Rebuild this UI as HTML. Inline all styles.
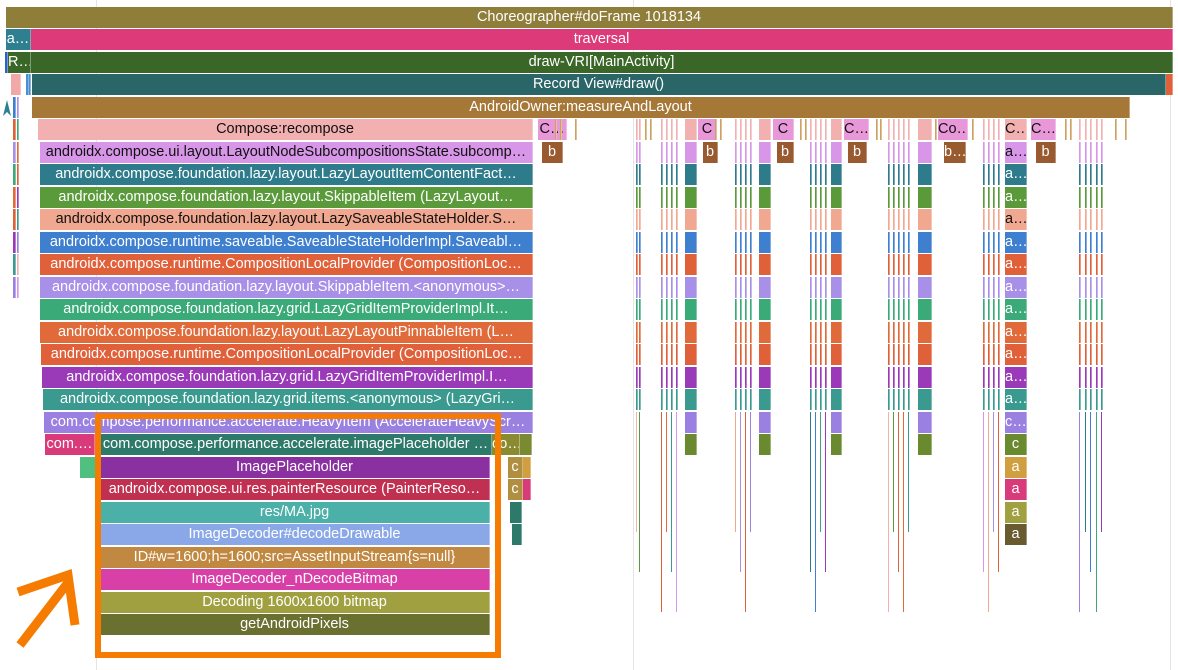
<!DOCTYPE html>
<html><head><meta charset="utf-8"><style>
html,body{margin:0;padding:0;background:#fff;width:1178px;height:670px;overflow:hidden}
#c{position:relative;width:1178px;height:670px}
.b{position:absolute;height:21px;box-sizing:border-box;font:14.5px "Liberation Sans Narrow","Liberation Sans",sans-serif;color:#fff;text-align:center;line-height:21px;white-space:nowrap;overflow:hidden;border-right:1px solid rgba(255,255,255,.35)}
.d{color:#111}
.g{position:absolute;top:0;width:1px;height:670px;background:#e4e4e4}
</style></head><body><div id="c">
<div class="g" style="left:96px"></div><div class="g" style="left:633px"></div><div class="g" style="left:1170px"></div>
</div>
<script>
var C=document.getElementById('c');
function Y(r){return Math.round(6.5+22.5*r);}
function bar(r,x,w,col,t,dark,h){var d=document.createElement('div');d.className='b'+(dark?' d':'');d.style.left=x+'px';d.style.top=Y(r)+'px';d.style.width=w+'px';d.style.background=col;if(h)d.style.height=h+'px';d.textContent=t||'';C.appendChild(d);return d;}
bar(0,6,1167,'#8f7d3a','Choreographer#doFrame 1018134');
bar(1,6,25,'#2e8090','a…');bar(1,31,1142,'#dc3a78','traversal');
bar(2,5,3,'#3060c0');bar(2,8,23,'#3a6628','R…');bar(2,31,1142,'#3a6628','draw-VRI[MainActivity]');
bar(3,11,10,'#f0a8a8');bar(3,26,3,'#4a90d0');bar(3,29,2,'#4a90d0');bar(3,32,1134,'#2a6568','Record View#draw()');bar(3,1166,7,'#e0603a');
bar(4,32,1098,'#a67838','AndroidOwner:measureAndLayout');
var rc=['#f2b0b0','#d896e8','#2e7b8c','#5a9a3a','#f0a890','#3f7fd0','#e0603a','#a890e8','#3aaa78','#e06a3a','#e0603a','#9a3ab8','#3a9a90','#9a80e0'];
var dark={5:1,6:1,9:1};
var tx=['Compose:recompose','androidx.compose.ui.layout.LayoutNodeSubcompositionsState.subcomp…','androidx.compose.foundation.lazy.layout.LazyLayoutItemContentFact…','androidx.compose.foundation.lazy.layout.SkippableItem (LazyLayout…','androidx.compose.foundation.lazy.layout.LazySaveableStateHolder.S…','androidx.compose.runtime.saveable.SaveableStateHolderImpl.Saveabl…','androidx.compose.runtime.CompositionLocalProvider (CompositionLoc…','androidx.compose.foundation.lazy.layout.SkippableItem.<anonymous>…','androidx.compose.foundation.lazy.grid.LazyGridItemProviderImpl.It…','androidx.compose.foundation.lazy.layout.LazyLayoutPinnableItem (L…','androidx.compose.runtime.CompositionLocalProvider (CompositionLoc…','androidx.compose.foundation.lazy.grid.LazyGridItemProviderImpl.I…','androidx.compose.foundation.lazy.grid.items.<anonymous> (LazyGri…','com.compose.performance.accelerate.HeavyItem (AccelerateHeavyScr…'];
for(var i=0;i<14;i++){var x=38+Math.min(i,1)*2+(i>9?(i-9):0);bar(5+i,x,533-x,rc[i],tx[i],dark[5+i]);}
for(var r=4;r<13;r++){bar(r,13,3,rc[(r+1)%14]);bar(r,17,2,rc[(r+3)%14]);}
bar(19,45,50,'#d83a7a','com.…');bar(19,100,392,'#2e7a6a','com.compose.performance.accelerate.imagePlaceholder …');
bar(19,492,28,'#8a8a30','co…');bar(19,520,12,'#7a8a30');
bar(20,80,20,'#50c080');bar(20,508,15,'#b09040','c');bar(20,523,8,'#d0a040');
bar(21,508,15,'#b09040','c');bar(21,523,8,'#d83a7a');
bar(22,510,12,'#2e7a6a');bar(23,512,10,'#2e7a6a');
var inner=[['#8a30a0','ImagePlaceholder'],['#c03050','androidx.compose.ui.res.painterResource (PainterReso…'],['#4ab0a8','res/MA.jpg'],['#8aa8e8','ImageDecoder#decodeDrawable'],['#c08840','ID#w=1600;h=1600;src=AssetInputStream{s=null}'],['#d840a8','ImageDecoder_nDecodeBitmap'],['#a0a040','Decoding 1600x1600 bitmap'],['#6a7030','getAndroidPixels']];
for(var i=0;i<8;i++)bar(20+i,100,390,inner[i][0],inner[i][1]);
function col(x,w,depth,lbl){for(var r=5;r<=depth;r++){var c=rc[r-5]||['#6a8a30','#d0a040','#d83a7a','#a0a040','#6a5a30'][r-19];var t='';if(lbl&&lbl[r])t=lbl[r];bar(r,x,w,c,t,dark[r]&&t);}}
col(685,12,19);col(759,12,19);col(831,11,19);col(918,14,19);
var al={5:'C…'};for(var r=6;r<18;r++)al[r]='a…';al[18]='c…';al[19]='c';al[20]='a';al[21]='a';al[22]='a';al[23]='a';
col(1005,22,23,al);
[[538,29,'C…'],[698,19,'C'],[773,21,'C'],[844,25,'C…'],[938,30,'Co…'],[1031,25,'C…']].forEach(function(a){bar(5,a[0],a[1],'#e898d8',a[2],1);});
[[542,21],[703,15],[777,17],[848,19],[944,22,'b…'],[1036,20]].forEach(function(a){bar(6,a[0],a[1],'#9a5a30',a[2]||'b');});
var th=[636,639,661,666,671,676,735,740,745,750,810,815,820,825,888,893,898,903,908,983,988,993,998,1079,1085,1090,1096,1101];
th.forEach(function(x,j){for(var r=5;r<=17;r++)bar(r,x,2,rc[(r-5)%14]);var d=document.createElement('div');d.style.cssText='position:absolute;left:'+x+'px;top:'+Y(18)+'px;width:1px;height:'+(120+(j%3)*40)+'px;background:'+rc[(j*3)%14];C.appendChild(d);});
[555,560,575,645,650,715,720,800,805,876,880,935,972,1065,1070,1115,1125].forEach(function(x){bar(5,x,2,'#d0a060');});
</script>
<div style="position:absolute;left:95px;top:413px;width:406px;height:245px;box-sizing:border-box;border:6px solid #f57c00"></div>
<svg style="position:absolute;left:0;top:0" width="1178" height="670"><path d="M20 645 L70 580 M18 592 L68 575 L75 625" stroke="#f57c00" stroke-width="9" fill="none"/><path d="M7 100 L3 116 L7 112 L11 116 Z" fill="#2e8090"/></svg>
</body></html>
